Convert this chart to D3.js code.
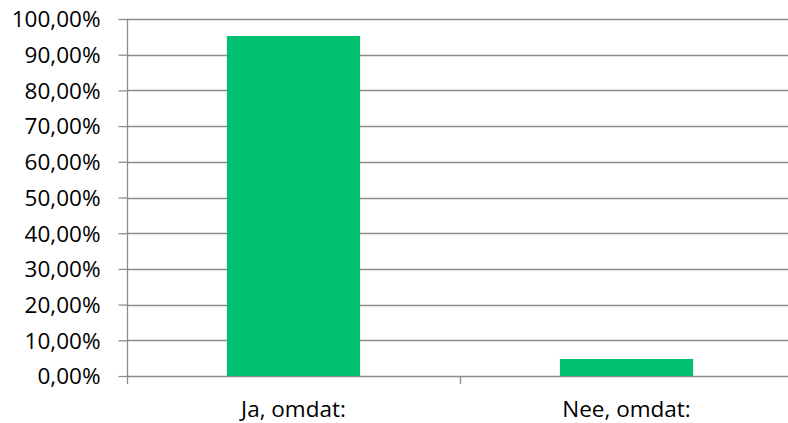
<!DOCTYPE html>
<html><head><meta charset="utf-8">
<script src="https://cdn.jsdelivr.net/npm/d3@7"></script>
<style>body{margin:0;background:#fff}svg{display:block}text{font-family:"Open Sans","Liberation Sans",sans-serif;fill:#000}</style>
</head><body>
<svg id="c" width="788" height="423"></svg>
<script>
const categories = ["Ja, omdat:", "Nee, omdat:"];
const values = [0.9524, 0.0476];
const yTicks = [0,0.1,0.2,0.3,0.4,0.5,0.6,0.7,0.8,0.9,1.0];

const svg = d3.select("#c");
const mLeft = 127, mRight = 793, mTop = 19, mBottom = 376;
const x = d3.scaleBand().domain(categories).range([mLeft, mRight]).paddingInner(0.6).paddingOuter(0.3);
const xOuter = d3.scaleBand().domain(categories).range([mLeft, mRight]);
const y = d3.scaleLinear().domain([0,1]).range([mBottom, mTop]);
const fmt = v => d3.format(".2f")(v*100).replace(".", ",") + "%";
const grid = "#8c8c8c";

// gridlines
svg.append("g").selectAll("line").data(yTicks).join("line")
  .attr("x1", mLeft).attr("x2", mRight)
  .attr("y1", d => Math.round(y(d)) + 0.5).attr("y2", d => Math.round(y(d)) + 0.5)
  .attr("stroke", grid).attr("stroke-width", 1.3);

// bars
svg.append("g").selectAll("rect").data(values).join("rect")
  .attr("x", (d,i) => x(categories[i])).attr("width", x.bandwidth())
  .attr("y", d => y(d)).attr("height", d => mBottom - y(d))
  .attr("fill", "#00BF6F");

// y axis
const yAxis = d3.axisLeft(y).tickValues(yTicks).tickFormat(fmt).tickSize(9).tickPadding(18);
const gy = svg.append("g").attr("transform", `translate(${mLeft + 0.5},0)`).call(yAxis);
gy.select(".domain").attr("stroke", grid).attr("stroke-width", 1.3).attr("d", `M0,${mTop}V${mBottom + 8}`);
gy.selectAll(".tick line").attr("stroke", grid).attr("stroke-width", 1.3);
gy.selectAll(".tick text").style("font-size", "22.5px").attr("dy", "0.35em");

// x axis
const xAxis = d3.axisBottom(xOuter).tickSize(0).tickPadding(25);
const gx = svg.append("g").attr("transform", `translate(0,${mBottom + 0.5})`).call(xAxis);
gx.select(".domain").remove();
gx.selectAll(".tick text").style("font-size", "22.5px");
// category separator ticks
svg.append("g").selectAll("line").data(categories.slice(1)).join("line")
  .attr("x1", d => Math.round(xOuter(d)) + 0.5).attr("x2", d => Math.round(xOuter(d)) + 0.5)
  .attr("y1", mBottom).attr("y2", mBottom + 8)
  .attr("stroke", grid).attr("stroke-width", 1.3);
</script>
</body></html>
